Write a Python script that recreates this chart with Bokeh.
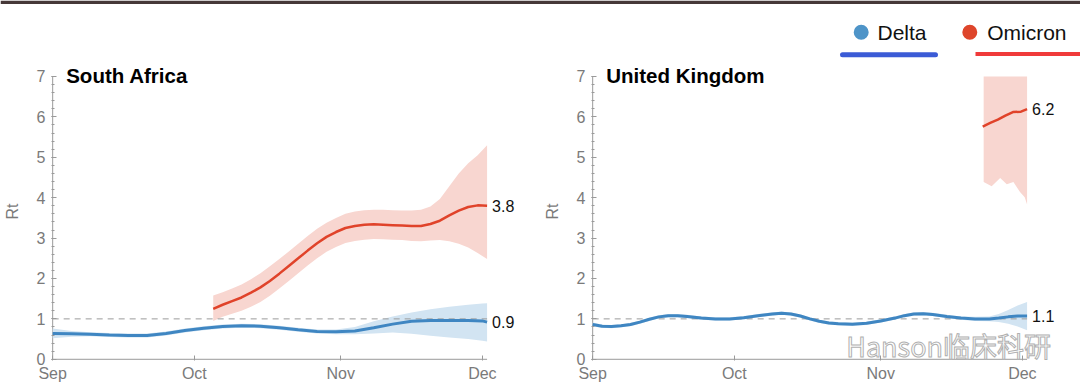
from bokeh.plotting import figure
from bokeh.models import Range1d, FixedTicker, Label, BoxAnnotation
from bokeh.layouts import column, row
from bokeh.embed import file_html
from bokeh.resources import INLINE
from bokeh.core.properties import value

FONT = "Liberation Sans"
BLUE = "#3f86c2"
BLUE_BAND = "#d2e4f2"
RED = "#e0432a"
RED_BAND = "#f8d6d0"
AXIS = "#9a9a9a"
TICKTXT = "#7a7a7a"

# x = days since 1 Sep
month_ticks = [0, 30, 61, 91]
month_labels = ["Sep", "Oct", "Nov", "Dec"]
data_end = 92  # last day with data (2 Dec)

# ---- South Africa ----
sa_delta_days = [0, 4, 8, 12, 16, 20, 24, 28, 32, 36, 40, 44, 48, 52, 56, 60, 64, 68, 72, 76, 80, 84, 88, 91, 92]
sa_delta_rt = [0.64, 0.63, 0.62, 0.60, 0.59, 0.59, 0.64, 0.71, 0.77, 0.81, 0.83, 0.82, 0.78, 0.73, 0.69, 0.68, 0.70, 0.78, 0.87, 0.94, 0.96, 0.96, 0.96, 0.95, 0.92]
sa_delta_lo = [0.52, 0.56, 0.57, 0.55, 0.54, 0.54, 0.59, 0.66, 0.72, 0.76, 0.78, 0.77, 0.73, 0.68, 0.64, 0.62, 0.62, 0.64, 0.66, 0.63, 0.58, 0.54, 0.50, 0.46, 0.44]
sa_delta_hi = [0.76, 0.70, 0.67, 0.65, 0.64, 0.64, 0.69, 0.76, 0.82, 0.86, 0.88, 0.87, 0.83, 0.78, 0.74, 0.74, 0.80, 0.94, 1.06, 1.16, 1.24, 1.30, 1.35, 1.38, 1.39]

sa_omi_days = [34, 36, 38, 40, 42, 44, 46, 48, 50, 52, 54, 56, 58, 60, 62, 64, 66, 68, 70, 72, 74, 76, 78, 80, 82, 84, 86, 88, 90, 92]
sa_omi_rt = [1.25, 1.35, 1.44, 1.53, 1.65, 1.78, 1.94, 2.12, 2.31, 2.50, 2.69, 2.87, 3.03, 3.15, 3.25, 3.30, 3.33, 3.34, 3.33, 3.32, 3.31, 3.30, 3.30, 3.35, 3.43, 3.56, 3.68, 3.77, 3.81, 3.80]
sa_omi_lo = [0.95, 1.05, 1.13, 1.20, 1.30, 1.42, 1.57, 1.75, 1.94, 2.13, 2.32, 2.50, 2.66, 2.78, 2.88, 2.93, 2.96, 2.98, 2.97, 2.96, 2.95, 2.93, 2.92, 2.94, 2.95, 2.92, 2.86, 2.77, 2.63, 2.48]
sa_omi_hi = [1.58, 1.66, 1.75, 1.85, 1.98, 2.13, 2.30, 2.48, 2.67, 2.86, 3.05, 3.23, 3.38, 3.50, 3.60, 3.66, 3.69, 3.70, 3.70, 3.69, 3.68, 3.68, 3.70, 3.78, 3.97, 4.28, 4.60, 4.85, 5.05, 5.30]

# ---- United Kingdom ----
uk_delta_days = [0, 2, 4, 6, 8, 10, 12, 14, 16, 18, 20, 23, 26, 29, 32, 35, 38, 40, 42, 44, 46, 48, 50, 52, 55, 58, 61, 64, 66, 68, 70, 72, 75, 78, 81, 84, 86, 88, 90, 92]
uk_delta_rt = [0.86, 0.82, 0.81, 0.83, 0.86, 0.92, 0.99, 1.05, 1.08, 1.08, 1.06, 1.02, 1.00, 1.00, 1.03, 1.08, 1.12, 1.14, 1.12, 1.07, 1.00, 0.94, 0.90, 0.88, 0.87, 0.89, 0.95, 1.02, 1.08, 1.12, 1.13, 1.11, 1.06, 1.02, 1.00, 1.00, 1.02, 1.05, 1.07, 1.07]
uk_delta_lo = [0.81, 0.78, 0.77, 0.79, 0.82, 0.88, 0.95, 1.01, 1.04, 1.04, 1.02, 0.98, 0.96, 0.96, 0.99, 1.04, 1.08, 1.10, 1.08, 1.03, 0.96, 0.90, 0.86, 0.84, 0.83, 0.85, 0.91, 0.98, 1.04, 1.08, 1.09, 1.07, 1.02, 0.98, 0.95, 0.94, 0.92, 0.88, 0.81, 0.72]
uk_delta_hi = [0.91, 0.86, 0.85, 0.87, 0.90, 0.96, 1.03, 1.09, 1.12, 1.12, 1.10, 1.06, 1.04, 1.04, 1.07, 1.12, 1.16, 1.18, 1.16, 1.11, 1.04, 0.98, 0.94, 0.92, 0.91, 0.93, 0.99, 1.06, 1.12, 1.16, 1.17, 1.15, 1.10, 1.06, 1.05, 1.06, 1.12, 1.22, 1.33, 1.42]

uk_omi_days = [82.6, 84.2, 85.8, 87.4, 89.0, 90.7, 92.0]
uk_omi_rt = [5.76, 5.85, 5.93, 6.03, 6.12, 6.13, 6.19]
uk_omi_band_days = [82.8, 84.5, 86.3, 87.7, 89.1, 90.5, 91.5, 92.0]
uk_omi_lo = [4.39, 4.28, 4.49, 4.33, 4.39, 4.14, 4.01, 3.83]
uk_omi_hi = [7.0, 7.0, 7.0, 7.0, 7.0, 7.0, 7.0, 7.0]

end_labels = {"sa_omi": "3.8", "sa_delta": "0.9", "uk_omi": "6.2", "uk_delta": "1.1"}

Y_TOP = 7
X_START, X_END = -0.25, 99.5
Y_START, Y_END = -0.03, 7.346


def panel(title, dd, dr, dlo, dhi, od, orr, obd, olo, ohi, lab_d, lab_o, bl, br):
    p = figure(width=540, height=328, x_range=Range1d(X_START, X_END), y_range=Range1d(Y_START, Y_END),
               output_backend="svg", toolbar_location=None,
               min_border_left=bl, min_border_right=br, min_border_top=0, min_border_bottom=30,
               outline_line_color=None, background_fill_color="white", border_fill_color="white")
    p.xgrid.visible = False
    p.ygrid.visible = False

    ya = p.yaxis[0]
    ya.ticker = FixedTicker(ticks=list(range(Y_TOP + 1)), minor_ticks=[i * 0.2 for i in range(5 * Y_TOP + 1)])
    ya.major_tick_in = 5
    ya.major_tick_out = 0
    ya.minor_tick_in = 3
    ya.minor_tick_out = 0
    ya.axis_line_color = None
    ya.major_tick_line_color = AXIS
    ya.minor_tick_line_color = AXIS
    ya.major_label_text_color = TICKTXT
    ya.major_label_text_font = FONT
    ya.major_label_text_font_size = "16px"
    ya.major_label_standoff = 6
    ya.axis_label = "Rt"
    ya.axis_label_text_font = FONT
    ya.axis_label_text_font_size = "16px"
    ya.axis_label_text_font_style = "normal"
    ya.axis_label_text_color = TICKTXT
    ya.axis_label_standoff = 13

    xa = p.xaxis[0]
    xa.ticker = FixedTicker(ticks=month_ticks, minor_ticks=[])
    xa.major_label_overrides = dict(zip(month_ticks, month_labels))
    xa.major_tick_in = 5
    xa.major_tick_out = 0
    xa.minor_tick_line_color = None
    xa.axis_line_color = None
    xa.major_tick_line_color = AXIS
    xa.major_label_text_color = TICKTXT
    xa.major_label_text_font = FONT
    xa.major_label_text_font_size = "16px"
    xa.major_label_standoff = 4

    # axis lines limited to the data extent
    p.segment(x0=[0], y0=[0], x1=[0], y1=[Y_TOP], line_color=AXIS, line_width=1)
    p.segment(x0=[X_START], y0=[0], x1=[data_end], y1=[0], line_color=AXIS, line_width=1)

    p.varea(x=dd, y1=dlo, y2=dhi, fill_color=BLUE_BAND, fill_alpha=1.0)
    p.varea(x=obd, y1=olo, y2=ohi, fill_color=RED_BAND, fill_alpha=1.0)
    # Rt = 1 reference
    p.segment(x0=[0], y0=[1], x1=[data_end], y1=[1], line_color=AXIS, line_dash="6 5", line_width=1)
    p.line(x=dd, y=dr, line_color=BLUE, line_width=3)
    p.line(x=od, y=orr, line_color=RED, line_width=2.5)

    p.add_layout(Label(x=dd[-1], y=dr[-1], text=lab_d, x_offset=5, text_baseline="middle",
                       text_font=FONT, text_font_size="16px", text_color="#111111"))
    p.add_layout(Label(x=od[-1], y=orr[-1], text=lab_o, x_offset=5, text_baseline="middle",
                       text_font=FONT, text_font_size="16px", text_color="#111111"))
    p.add_layout(Label(x=0, y=Y_TOP, text=title, x_offset=13.5, y_offset=1, text_baseline="alphabetic",
                       text_font=FONT, text_font_size="20.5px", text_font_style="bold", text_color="#000000"))
    return p


p1 = panel("South Africa", sa_delta_days, sa_delta_rt, sa_delta_lo, sa_delta_hi,
           sa_omi_days, sa_omi_rt, sa_omi_days, sa_omi_lo, sa_omi_hi,
           end_labels["sa_delta"], end_labels["sa_omi"], 51, 18)
p2 = panel("United Kingdom", uk_delta_days, uk_delta_rt, uk_delta_lo, uk_delta_hi,
           uk_omi_days, uk_omi_rt, uk_omi_band_days, uk_omi_lo, uk_omi_hi,
           end_labels["uk_delta"], end_labels["uk_omi"], 50, 18)

# watermark
p2.add_layout(Label(x=53.7, y=0.35, text="Hanson临床科研", text_baseline="middle",
                    text_font="Noto Sans CJK SC", text_font_size="27px",
                    text_color="#ffffff", text_outline_color="#b0b0b0"))

# ---- legend header ----
legend_names = ["Delta", "Omicron"]
legend_colors = ["#4e94c8", "#de452b"]
hdr = figure(width=1080, height=62, x_range=Range1d(0, 1080), y_range=Range1d(62, 0),
             output_backend="svg", toolbar_location=None, min_border=0,
             x_axis_location=None, y_axis_location=None, outline_line_color=None)
hdr.xgrid.visible = False
hdr.ygrid.visible = False
# dark strip at the very top of the screenshot
hdr.add_layout(BoxAnnotation(top=0, bottom=3.5, fill_color="#463838", fill_alpha=1.0, line_color=None))
hdr.scatter(x=[860.7, 969.3], y=[31.7, 31.7], size=15, color=legend_colors, line_color=None)
hdr.text(x=[877.0, 986.7], y=[31.7, 31.7], text=legend_names, text_font=value(FONT),
         text_font_size="21px", text_baseline="middle", text_color="#111111")
hdr.segment(x0=[842.0], y0=[54.3], x1=[935.0], y1=[54.3], line_width=5, line_cap="round", line_color="#3b5bd6")
hdr.segment(x0=[975.0], y0=[53.5], x1=[1080.0], y1=[53.5], line_width=4, line_color="#f03a3a")

layout = column(hdr, row(p1, p2, spacing=0), spacing=0)
open("out.html", "w").write(file_html(layout, INLINE))
